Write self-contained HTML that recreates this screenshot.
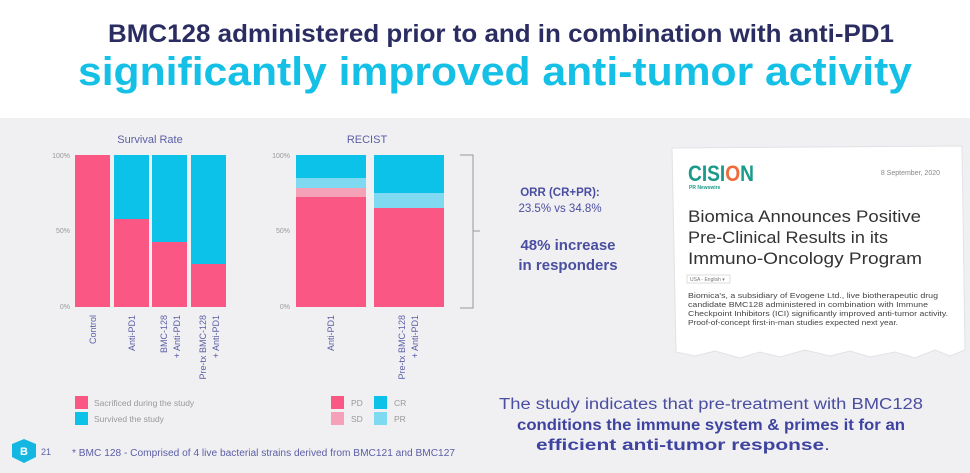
<!DOCTYPE html>
<html><head><meta charset="utf-8"><style>
html,body{margin:0;padding:0;background:#fff}
svg{display:block;font-family:"Liberation Sans",sans-serif}
</style></head><body>
<svg width="970" height="473" viewBox="0 0 970 473" xmlns="http://www.w3.org/2000/svg">
<rect width="970" height="473" fill="#fff"/>
<rect y="118" width="970" height="355" fill="#f0f0f2"/>
<text x="501" y="42" text-anchor="middle" font-size="25" font-weight="bold" fill="#2a2c62" textLength="786" lengthAdjust="spacingAndGlyphs">BMC128 administered prior to and in combination with anti-PD1</text>
<text x="495" y="85" text-anchor="middle" font-size="40" font-weight="bold" fill="#14c0e6" textLength="834" lengthAdjust="spacingAndGlyphs">significantly improved anti-tumor activity</text>

<g font-size="11" fill="#5b5ea6">
<text x="150" y="143" text-anchor="middle">Survival Rate</text>
<text x="367" y="143" text-anchor="middle">RECIST</text>
</g>
<g font-size="7" fill="#999">
<text x="70" y="158" text-anchor="end">100%</text>
<text x="70" y="233" text-anchor="end">50%</text>
<text x="70" y="309" text-anchor="end">0%</text>
<text x="290" y="158" text-anchor="end">100%</text>
<text x="290" y="233" text-anchor="end">50%</text>
<text x="290" y="309" text-anchor="end">0%</text>
</g>
<rect x="75" y="155" width="35" height="152" fill="#fb5784"/>
<rect x="114" y="155" width="35" height="64" fill="#0cc2e8"/>
<rect x="114" y="219" width="35" height="88" fill="#fb5784"/>
<rect x="152" y="155" width="35" height="87" fill="#0cc2e8"/>
<rect x="152" y="242" width="35" height="65" fill="#fb5784"/>
<rect x="191" y="155" width="35" height="109" fill="#0cc2e8"/>
<rect x="191" y="264" width="35" height="43" fill="#fb5784"/>
<rect x="296" y="155" width="70" height="23" fill="#0cc2e8"/>
<rect x="296" y="178" width="70" height="10" fill="#7fd9f0"/>
<rect x="296" y="188" width="70" height="9" fill="#f5a2b8"/>
<rect x="296" y="197" width="70" height="110" fill="#fb5784"/>
<rect x="374" y="155" width="70" height="38" fill="#0cc2e8"/>
<rect x="374" y="193" width="70" height="15" fill="#7fd9f0"/>
<rect x="374" y="208" width="70" height="99" fill="#fb5784"/>
<path d="M460 155 H473 V308 H460 M473 231 H480" stroke="#999" fill="none" stroke-width="1"/>
<g font-size="9" fill="#5b5ea6">
<text transform="translate(96,315) rotate(-90)" text-anchor="end">Control</text>
<text transform="translate(135,315) rotate(-90)" text-anchor="end">Anti-PD1</text>
<text transform="translate(167,315) rotate(-90)" text-anchor="end">BMC-128</text>
<text transform="translate(180,315) rotate(-90)" text-anchor="end">+ Anti-PD1</text>
<text transform="translate(206,315) rotate(-90)" text-anchor="end">Pre-tx BMC-128</text>
<text transform="translate(219,315) rotate(-90)" text-anchor="end">+ Anti-PD1</text>
<text transform="translate(334,315) rotate(-90)" text-anchor="end">Anti-PD1</text>
<text transform="translate(405,315) rotate(-90)" text-anchor="end">Pre-tx BMC-128</text>
<text transform="translate(418,315) rotate(-90)" text-anchor="end">+ Anti-PD1</text>
</g>
<g font-size="8.5" fill="#999">
<rect x="75" y="396" width="13" height="13" fill="#fb5784"/><text x="94" y="406">Sacrificed during the study</text>
<rect x="75" y="412" width="13" height="13" fill="#0cc2e8"/><text x="94" y="422">Survived the study</text>
<rect x="331" y="396" width="13" height="13" fill="#fb5784"/><text x="351" y="406">PD</text>
<rect x="331" y="412" width="13" height="13" fill="#f5a2b8"/><text x="351" y="422">SD</text>
<rect x="374" y="396" width="13" height="13" fill="#0cc2e8"/><text x="394" y="406">CR</text>
<rect x="374" y="412" width="13" height="13" fill="#7fd9f0"/><text x="394" y="422">PR</text>
</g>
<polygon points="24,439 36,444 36,457 24,463 12,457 12,444" fill="#14b6e2"/>
<text x="24" y="455" text-anchor="middle" font-size="11" font-weight="bold" fill="#fff">B</text>
<text x="41" y="455" font-size="9" fill="#5b5ea6">21</text>
<text x="72" y="456" font-size="10" fill="#5b5ea6" textLength="383" lengthAdjust="spacingAndGlyphs">* BMC 128 - Comprised of 4 live bacterial strains derived from BMC121 and BMC127</text>
<g text-anchor="middle" fill="#4a4ea0">
<text x="560" y="196" font-size="11.5" font-weight="bold">ORR (CR+PR):</text>
<text x="560" y="212" font-size="11.5">23.5% vs 34.8%</text>
<text x="568" y="250" font-size="15" font-weight="bold">48% increase</text>
<text x="568" y="270" font-size="15" font-weight="bold">in responders</text>
</g>
<path d="M672 148 L962 146 L965 350 L950 356 L935 350 L915 358 L895 352 L870 357 L850 351 L830 356 L805 350 L780 357 L760 352 L740 358 L715 351 L695 356 L676 352 Z" fill="#fff" stroke="#e2e2e6" stroke-width="1"/>
<text x="688" y="181" font-size="22" font-weight="bold" fill="#1a9a8a" textLength="66" lengthAdjust="spacingAndGlyphs">CISI<tspan fill="#f06a3a">O</tspan>N</text>
<text x="689" y="189" font-size="5" font-weight="bold" fill="#1a9a8a">PR Newswire</text>
<text x="940" y="175" text-anchor="end" font-size="7" fill="#888">8 September, 2020</text>
<g font-size="17" fill="#333">
<text x="688" y="222" textLength="233" lengthAdjust="spacingAndGlyphs">Biomica Announces Positive</text>
<text x="688" y="243" textLength="200" lengthAdjust="spacingAndGlyphs">Pre-Clinical Results in its</text>
<text x="688" y="264" textLength="234" lengthAdjust="spacingAndGlyphs">Immuno-Oncology Program</text>
</g>
<rect x="687" y="275" width="43" height="8" fill="#fff" stroke="#bbb" stroke-width="0.5"/>
<text x="690" y="281" font-size="5" fill="#777">USA - English ▾</text>
<g font-size="7.5" fill="#444">
<text x="688" y="298" textLength="250" lengthAdjust="spacingAndGlyphs">Biomica's, a subsidiary of Evogene Ltd., live biotherapeutic drug</text>
<text x="688" y="307" textLength="240" lengthAdjust="spacingAndGlyphs">candidate BMC128 administered in combination with Immune</text>
<text x="688" y="316" textLength="260" lengthAdjust="spacingAndGlyphs">Checkpoint Inhibitors (ICI) significantly improved anti-tumor activity.</text>
<text x="688" y="325" textLength="210" lengthAdjust="spacingAndGlyphs">Proof-of-concept first-in-man studies expected next year.</text>
</g>
<g font-size="15.5">
<text x="499" y="409" fill="#4a4ea0" textLength="424" lengthAdjust="spacingAndGlyphs">The study indicates that pre-treatment with BMC128</text>
<text x="517" y="430" fill="#3f43a0" font-weight="bold" textLength="388" lengthAdjust="spacingAndGlyphs">conditions the immune system &amp; primes it for an</text>
<text x="536" y="450" fill="#3f43a0" font-weight="bold" textLength="294" lengthAdjust="spacingAndGlyphs">efficient anti-tumor response<tspan font-weight="normal">.</tspan></text>
</g>
</svg>
</body></html>
